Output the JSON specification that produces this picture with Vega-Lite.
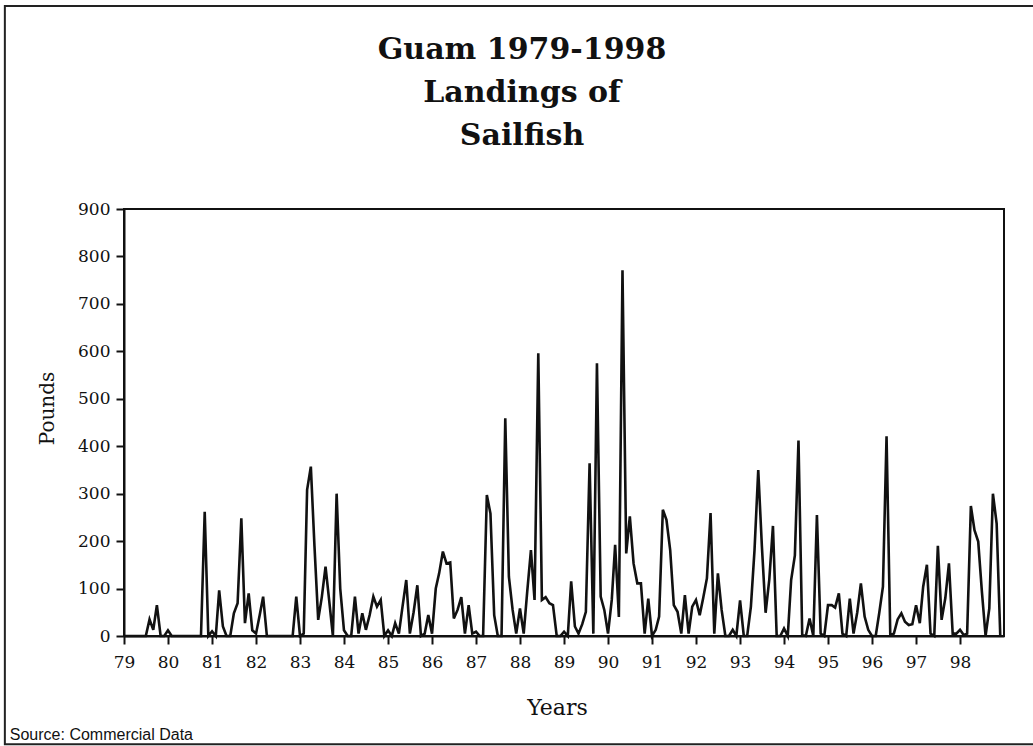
{
  "$schema": "https://vega.github.io/schema/vega-lite/v6.json",
  "width": 880,
  "height": 427,
  "autosize": "none",
  "padding": {"left": 124, "top": 209, "right": 29, "bottom": 110},
  "background": "white",
  "title": {
    "text": ["Guam 1979-1998", "Landings of", "Sailfish"],
    "anchor": "middle",
    "frame": "group",
    "dx": -42,
    "offset": -146,
    "font": "DejaVu Serif",
    "fontSize": 30,
    "fontWeight": "bold",
    "lineHeight": 43,
    "color": "#111"
  },
  "config": {
    "view": {"stroke": "#111", "strokeWidth": 2},
    "axis": {
      "grid": false,
      "domainColor": "#111",
      "domainWidth": 2,
      "tickColor": "#111",
      "tickWidth": 2,
      "tickSize": 8,
      "labelFont": "DejaVu Serif",
      "labelFontSize": 17,
      "labelColor": "#111",
      "titleFont": "DejaVu Serif",
      "titleFontSize": 20,
      "titleFontWeight": "normal",
      "titleColor": "#111"
    }
  },
  "layer": [
    {
      "data": {"values": [{}]},
      "mark": {"type": "rect", "fillOpacity": 0, "stroke": "#222", "strokeWidth": 2, "clip": false},
      "encoding": {
        "x": {"datum": {"year": 1976, "month": 4, "date": 17}, "type": "temporal", "scale": {"domain": [{"year": 1979, "month": 1, "date": 1}, {"year": 1999, "month": 1, "date": 1}]}},
        "x2": {"datum": {"year": 2001, "month": 1, "date": 1}},
        "y": {"datum": 1328, "type": "quantitative", "scale": {"domain": [0, 900], "nice": false}},
        "y2": {"datum": -228}
      }
    },
    {
      "data": {"values": [
        {"d":"1979-01","v":0},{"d":"1979-02","v":0},{"d":"1979-03","v":0},{"d":"1979-04","v":0},{"d":"1979-05","v":0},{"d":"1979-06","v":0},{"d":"1979-07","v":0},{"d":"1979-08","v":35},{"d":"1979-09","v":13},{"d":"1979-10","v":65},{"d":"1979-11","v":0},{"d":"1979-12","v":0},
        {"d":"1980-01","v":12},{"d":"1980-02","v":0},{"d":"1980-03","v":0},{"d":"1980-04","v":0},{"d":"1980-05","v":0},{"d":"1980-06","v":0},{"d":"1980-07","v":0},{"d":"1980-08","v":0},{"d":"1980-09","v":0},{"d":"1980-10","v":0},{"d":"1980-11","v":262},{"d":"1980-12","v":0},
        {"d":"1981-01","v":10},{"d":"1981-02","v":0},{"d":"1981-03","v":96},{"d":"1981-04","v":20},{"d":"1981-05","v":0},{"d":"1981-06","v":0},{"d":"1981-07","v":48},{"d":"1981-08","v":69},{"d":"1981-09","v":248},{"d":"1981-10","v":27},{"d":"1981-11","v":90},{"d":"1981-12","v":12},
        {"d":"1982-01","v":5},{"d":"1982-02","v":45},{"d":"1982-03","v":83},{"d":"1982-04","v":0},{"d":"1982-05","v":0},{"d":"1982-06","v":0},{"d":"1982-07","v":0},{"d":"1982-08","v":0},{"d":"1982-09","v":0},{"d":"1982-10","v":0},{"d":"1982-11","v":0},{"d":"1982-12","v":83},
        {"d":"1983-01","v":0},{"d":"1983-02","v":5},{"d":"1983-03","v":308},{"d":"1983-04","v":357},{"d":"1983-05","v":190},{"d":"1983-06","v":34},{"d":"1983-07","v":82},{"d":"1983-08","v":146},{"d":"1983-09","v":73},{"d":"1983-10","v":0},{"d":"1983-11","v":300},{"d":"1983-12","v":100},
        {"d":"1984-01","v":12},{"d":"1984-02","v":0},{"d":"1984-03","v":0},{"d":"1984-04","v":83},{"d":"1984-05","v":5},{"d":"1984-06","v":48},{"d":"1984-07","v":13},{"d":"1984-08","v":44},{"d":"1984-09","v":83},{"d":"1984-10","v":62},{"d":"1984-11","v":76},{"d":"1984-12","v":0},
        {"d":"1985-01","v":12},{"d":"1985-02","v":0},{"d":"1985-03","v":27},{"d":"1985-04","v":5},{"d":"1985-05","v":62},{"d":"1985-06","v":118},{"d":"1985-07","v":5},{"d":"1985-08","v":50},{"d":"1985-09","v":107},{"d":"1985-10","v":0},{"d":"1985-11","v":5},{"d":"1985-12","v":44},
        {"d":"1986-01","v":5},{"d":"1986-02","v":100},{"d":"1986-03","v":132},{"d":"1986-04","v":178},{"d":"1986-05","v":153},{"d":"1986-06","v":155},{"d":"1986-07","v":37},{"d":"1986-08","v":55},{"d":"1986-09","v":82},{"d":"1986-10","v":5},{"d":"1986-11","v":65},{"d":"1986-12","v":5},
        {"d":"1987-01","v":9},{"d":"1987-02","v":0},{"d":"1987-03","v":0},{"d":"1987-04","v":297},{"d":"1987-05","v":258},{"d":"1987-06","v":44},{"d":"1987-07","v":0},{"d":"1987-08","v":0},{"d":"1987-09","v":459},{"d":"1987-10","v":125},{"d":"1987-11","v":55},{"d":"1987-12","v":5},
        {"d":"1988-01","v":58},{"d":"1988-02","v":5},{"d":"1988-03","v":93},{"d":"1988-04","v":181},{"d":"1988-05","v":76},{"d":"1988-06","v":596},{"d":"1988-07","v":76},{"d":"1988-08","v":82},{"d":"1988-09","v":69},{"d":"1988-10","v":65},{"d":"1988-11","v":0},{"d":"1988-12","v":0},
        {"d":"1989-01","v":9},{"d":"1989-02","v":0},{"d":"1989-03","v":115},{"d":"1989-04","v":20},{"d":"1989-05","v":5},{"d":"1989-06","v":25},{"d":"1989-07","v":51},{"d":"1989-08","v":364},{"d":"1989-09","v":5},{"d":"1989-10","v":575},{"d":"1989-11","v":83},{"d":"1989-12","v":55},
        {"d":"1990-01","v":5},{"d":"1990-02","v":76},{"d":"1990-03","v":192},{"d":"1990-04","v":40},{"d":"1990-05","v":771},{"d":"1990-06","v":174},{"d":"1990-07","v":252},{"d":"1990-08","v":153},{"d":"1990-09","v":111},{"d":"1990-10","v":111},{"d":"1990-11","v":5},{"d":"1990-12","v":79},
        {"d":"1991-01","v":0},{"d":"1991-02","v":13},{"d":"1991-03","v":41},{"d":"1991-04","v":266},{"d":"1991-05","v":245},{"d":"1991-06","v":181},{"d":"1991-07","v":65},{"d":"1991-08","v":51},{"d":"1991-09","v":5},{"d":"1991-10","v":86},{"d":"1991-11","v":5},{"d":"1991-12","v":62},
        {"d":"1992-01","v":76},{"d":"1992-02","v":44},{"d":"1992-03","v":80},{"d":"1992-04","v":122},{"d":"1992-05","v":259},{"d":"1992-06","v":5},{"d":"1992-07","v":132},{"d":"1992-08","v":55},{"d":"1992-09","v":0},{"d":"1992-10","v":0},{"d":"1992-11","v":13},{"d":"1992-12","v":0},
        {"d":"1993-01","v":75},{"d":"1993-02","v":0},{"d":"1993-03","v":0},{"d":"1993-04","v":62},{"d":"1993-05","v":181},{"d":"1993-06","v":350},{"d":"1993-07","v":190},{"d":"1993-08","v":49},{"d":"1993-09","v":120},{"d":"1993-10","v":232},{"d":"1993-11","v":0},{"d":"1993-12","v":0},
        {"d":"1994-01","v":16},{"d":"1994-02","v":0},{"d":"1994-03","v":118},{"d":"1994-04","v":170},{"d":"1994-05","v":412},{"d":"1994-06","v":2},{"d":"1994-07","v":0},{"d":"1994-08","v":37},{"d":"1994-09","v":0},{"d":"1994-10","v":255},{"d":"1994-11","v":5},{"d":"1994-12","v":0},
        {"d":"1995-01","v":65},{"d":"1995-02","v":65},{"d":"1995-03","v":60},{"d":"1995-04","v":90},{"d":"1995-05","v":5},{"d":"1995-06","v":0},{"d":"1995-07","v":79},{"d":"1995-08","v":5},{"d":"1995-09","v":50},{"d":"1995-10","v":111},{"d":"1995-11","v":41},{"d":"1995-12","v":13},
        {"d":"1996-01","v":0},{"d":"1996-02","v":0},{"d":"1996-03","v":48},{"d":"1996-04","v":104},{"d":"1996-05","v":421},{"d":"1996-06","v":2},{"d":"1996-07","v":5},{"d":"1996-08","v":35},{"d":"1996-09","v":48},{"d":"1996-10","v":30},{"d":"1996-11","v":23},{"d":"1996-12","v":25},
        {"d":"1997-01","v":65},{"d":"1997-02","v":27},{"d":"1997-03","v":104},{"d":"1997-04","v":150},{"d":"1997-05","v":5},{"d":"1997-06","v":0},{"d":"1997-07","v":190},{"d":"1997-08","v":34},{"d":"1997-09","v":80},{"d":"1997-10","v":153},{"d":"1997-11","v":5},{"d":"1997-12","v":5},
        {"d":"1998-01","v":13},{"d":"1998-02","v":2},{"d":"1998-03","v":5},{"d":"1998-04","v":274},{"d":"1998-05","v":223},{"d":"1998-06","v":199},{"d":"1998-07","v":95},{"d":"1998-08","v":0},{"d":"1998-09","v":58},{"d":"1998-10","v":300},{"d":"1998-11","v":237},{"d":"1998-12","v":0}
      ]},
      "mark": {"type": "line", "color": "#111", "strokeWidth": 2.6, "clip": false},
      "encoding": {
        "x": {
          "field": "d",
          "type": "temporal",
          "scale": {"domain": [{"year": 1979, "month": 1, "date": 1}, {"year": 1999, "month": 1, "date": 1}]},
          "axis": {
            "title": "Years",
            "values": [
              {"year": 1979, "month": 1, "date": 1}, {"year": 1980, "month": 1, "date": 1}, {"year": 1981, "month": 1, "date": 1}, {"year": 1982, "month": 1, "date": 1},
              {"year": 1983, "month": 1, "date": 1}, {"year": 1984, "month": 1, "date": 1}, {"year": 1985, "month": 1, "date": 1}, {"year": 1986, "month": 1, "date": 1},
              {"year": 1987, "month": 1, "date": 1}, {"year": 1988, "month": 1, "date": 1}, {"year": 1989, "month": 1, "date": 1}, {"year": 1990, "month": 1, "date": 1},
              {"year": 1991, "month": 1, "date": 1}, {"year": 1992, "month": 1, "date": 1}, {"year": 1993, "month": 1, "date": 1}, {"year": 1994, "month": 1, "date": 1},
              {"year": 1995, "month": 1, "date": 1}, {"year": 1996, "month": 1, "date": 1}, {"year": 1997, "month": 1, "date": 1}, {"year": 1998, "month": 1, "date": 1}
            ],
            "format": "%y",
            "labelAlign": "center",
            "labelFlush": false,
            "labelOverlap": false,
            "labelPadding": 10,
            "titleX": 433,
            "titleY": 71,
            "titleBaseline": "middle",
            "titleAlign": "center",
            "titleFontSize": 22
          }
        },
        "y": {
          "field": "v",
          "type": "quantitative",
          "scale": {"domain": [0, 900], "nice": false},
          "axis": {
            "title": "Pounds",
            "values": [0, 100, 200, 300, 400, 500, 600, 700, 800, 900],
            "labelPadding": 6,
            "titleAngle": -90,
            "titleX": -77,
            "titleY": 199,
            "titleAlign": "center",
            "titleBaseline": "middle",
            "titleFontSize": 20
          }
        }
      }
    },
    {
      "data": {"values": [{"label": "Source: Commercial Data"}]},
      "mark": {"type": "text", "align": "left", "baseline": "alphabetic", "font": "Liberation Sans", "fontSize": 16, "color": "#111", "clip": false},
      "encoding": {
        "text": {"field": "label"},
        "x": {"datum": {"year": 1976, "month": 5, "date": 28}, "type": "temporal"},
        "y": {"datum": -219, "type": "quantitative"}
      }
    }
  ]
}
